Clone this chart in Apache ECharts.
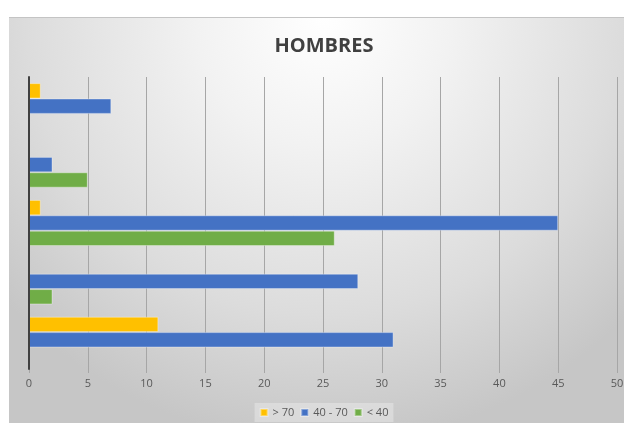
<!DOCTYPE html>
<html>
<head>
<meta charset="utf-8">
<script src="https://cdn.jsdelivr.net/npm/echarts@6/dist/echarts.min.js"></script>
<style>
html,body{margin:0;padding:0;background:#fff;width:624px;height:423px;overflow:hidden;}
#chart{position:absolute;left:9px;top:17px;width:630px;height:406px;border-top:1px solid #c4c4c4;box-sizing:border-box;}
</style>
</head>
<body>
<div id="chart"></div>
<script>
// Categories from bottom to top (no labels shown in the original)
const categories = ['1', '2', '3', '4', '5'];
const seriesNames = ['> 70', '40 - 70', '< 40'];
const over70 = [11, 0, 1, 0, 1];
const from40to70 = [31, 28, 45, 2, 7];
const under40 = [0, 2, 26, 5, 0];
const xTicks = { min: 0, max: 50, interval: 5 };
const colors = ['#FFC000', '#4472C4', '#70AD47'];

const chart = echarts.init(document.getElementById('chart'));
const values = [over70, from40to70, under40];
chart.setOption({
  backgroundColor: {
    type: 'radial', x: 0.5, y: 0.0, r: 1.05,
    colorStops: [
      { offset: 0, color: '#ffffff' },
      { offset: 0.3, color: '#f2f2f2' },
      { offset: 0.7, color: '#dcdcdc' },
      { offset: 1, color: '#c6c6c6' }
    ]
  },
  animation: false,
  color: colors,
  title: {
    text: 'HOMBRES', left: 'center', top: 13,
    textStyle: { fontFamily: 'Open Sans', fontWeight: 'bold', fontSize: 20, color: '#404040' }
  },
  legend: {
    bottom: 1, left: 'center',
    itemWidth: 7, itemHeight: 7, itemGap: 6,
    icon: 'rect',
    backgroundColor: 'rgba(255,255,255,0.3)',
    padding: [4, 5],
    textStyle: { fontFamily: 'Open Sans', fontSize: 11, color: '#595959' },
    data: seriesNames
  },
  grid: { left: 20, right: 22, top: 59, bottom: 54, containLabel: false },
  xAxis: {
    type: 'value', min: xTicks.min, max: xTicks.max, interval: xTicks.interval,
    axisLine: { show: false },
    axisTick: { show: true, length: 4, lineStyle: { color: '#a6a6a6' } },
    splitLine: { show: true, lineStyle: { color: '#a6a6a6', width: 1 } },
    axisLabel: { margin: 9, fontFamily: 'Open Sans', fontSize: 11, color: '#595959' }
  },
  yAxis: {
    type: 'category', data: categories, z: 10,
    axisLine: { show: true, lineStyle: { color: '#404040', width: 2 } },
    axisTick: { show: false },
    axisLabel: { show: false }
  },
  series: seriesNames.map((n, i) => ({
    name: n, type: 'bar', data: values[i],
    barGap: '0%', barCategoryGap: '21%',
    itemStyle: { color: colors[i], borderColor: 'rgba(255,255,255,0.35)', borderWidth: 1 }
  }))
});
</script>
</body>
</html>
